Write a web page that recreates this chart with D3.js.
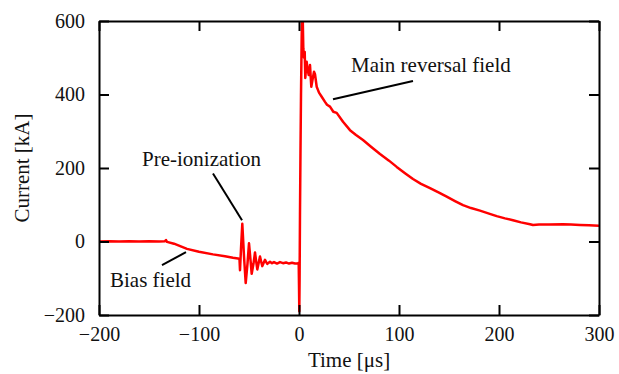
<!DOCTYPE html>
<html>
<head>
<meta charset="utf-8">
<script src="https://cdn.jsdelivr.net/npm/d3@7"></script>
<style>
  body { margin: 0; background: #fff; }
  svg { font-family: "Liberation Serif", "Times New Roman", serif; }
</style>
</head>
<body>
<svg id="chart" width="619" height="374"></svg>
<script>
// current trace (time in us, current in kA)
const time = [
  -200, -190, -180, -170, -160, -150, -140, -134, -133, -132, -125, -112, -100, -86, -74, -66, -61,
  -59.5, -59, -58, -56.7, -55, -53.3, -51.5, -50, -48.5, -47.3, -45.5, -44, -42.8, -41.7, -40.3, -39,
  -37.8, -36.7, -35.3, -34, -32.8, -31.7, -30, -29, -27, -25, -22, -19, -16, -13, -10, -7, -4, -1, -0.3,
  0, 0.3, 0.6, 1, 1.5, 2, 2.7, 3.3, 3.8, 4.3, 5, 5.7, 6.3, 7, 7.7, 8.5, 9.7, 11, 12.3, 13.5, 15, 16,
  17.7, 20, 22.7, 26, 28, 31, 34.3, 37.7, 44, 51, 57, 64, 72, 81, 90, 97.7, 106, 114, 122, 131, 140,
  147.7, 156, 164, 172, 181, 190, 197.7, 206, 214, 222, 231, 234, 240, 250, 264, 272, 281, 290, 300
];
const current = [
  0, 1, 0, 1, 0, 1, 0, 1, 4, -1, -6, -20, -28, -35, -40, -44, -46,
  -48, -78, -20, 48, -40, -113, -60, -5, -50, -88, -60, -30, -55, -76, -58, -41,
  -55, -67, -58, -50, -56, -61, -57, -55, -59, -56, -60, -56, -59, -57, -60, -58, -60, -59, -58,
  -120, -190, -100, 80, 250, 400, 560, 640, 600, 526, 500, 516, 445, 470, 489, 470, 453, 480, 421, 440, 462, 455,
  421, 405, 394, 380, 372, 367, 353, 350, 326, 303, 290, 276, 258, 238, 220, 203, 186, 170, 157, 145, 133,
  122, 110, 99, 91, 84, 76, 69, 63, 58, 52, 47, 45, 46, 46, 47, 46, 45, 44, 43
];

const xTicks = [-200, -100, 0, 100, 200, 300];
const yTicks = [-200, 0, 200, 400, 600];

// annotations: label, text anchor point, leader line (data coords)
const notes = [
  { text: "Pre-ionization", tx: -157, ty: 205, x1: -86, y1: 185, x2: -57, y2: 58 },
  { text: "Main reversal field", tx: 52, ty: 462, x1: 34, y1: 387, x2: 114, y2: 437 },
  { text: "Bias field", tx: -189, ty: -124, x1: -137, y1: -64, x2: -113, y2: -29 }
];

const svg = d3.select("#chart");
const margin = { left: 99, right: 20, top: 21, bottom: 59 };
const width = 619 - margin.left - margin.right;
const height = 374 - margin.top - margin.bottom;

const x = d3.scaleLinear().domain([-200, 300]).range([0, width]);
const y = d3.scaleLinear().domain([-200, 600]).range([height, 0]);

const g = svg.append("g").attr("transform", `translate(${margin.left},${margin.top})`);

g.append("clipPath").attr("id", "clip")
  .append("rect").attr("width", width).attr("height", height);

const line = d3.line().x((d, i) => x(time[i])).y(d => y(d));

g.append("path")
  .datum(current)
  .attr("clip-path", "url(#clip)")
  .attr("fill", "none")
  .attr("stroke", "#ff0000")
  .attr("stroke-width", 2.5)
  .attr("stroke-linejoin", "round")
  .attr("d", line);

// axes, ticks pointing inward on every side
const tick = 10;
const axBottom = g.append("g").attr("transform", `translate(0,${height})`)
  .call(d3.axisBottom(x).tickValues(xTicks).tickSizeInner(-tick).tickSizeOuter(0).tickPadding(12));
const axLeft = g.append("g")
  .call(d3.axisLeft(y).tickValues(yTicks).tickSizeInner(-tick).tickSizeOuter(0).tickPadding(14));
const axTop = g.append("g")
  .call(d3.axisTop(x).tickValues(xTicks).tickSizeInner(-tick).tickSizeOuter(0).tickFormat(""));
const axRight = g.append("g").attr("transform", `translate(${width},0)`)
  .call(d3.axisRight(y).tickValues(yTicks).tickSizeInner(-tick).tickSizeOuter(0).tickFormat(""));

[axBottom, axLeft, axTop, axRight].forEach(a => {
  a.selectAll("path.domain").attr("stroke", "#000").attr("stroke-width", 2);
  a.selectAll(".tick line").attr("stroke", "#000").attr("stroke-width", 2);
  a.selectAll(".tick text").attr("fill", "#111").style("font-size", "20px")
    .style("font-family", "'Liberation Serif', 'Times New Roman', serif");
});

svg.append("text")
  .attr("x", margin.left + width / 2)
  .attr("y", 367)
  .attr("text-anchor", "middle")
  .style("font-size", "21px")
  .attr("fill", "#111")
  .text("Time [μs]");

svg.append("text")
  .attr("transform", `translate(29,${margin.top + height / 2}) rotate(-90)`)
  .attr("text-anchor", "middle")
  .style("font-size", "21px")
  .attr("fill", "#111")
  .text("Current [kA]");

const ann = g.append("g");
ann.selectAll("line").data(notes).join("line")
  .attr("x1", d => x(d.x1)).attr("y1", d => y(d.y1))
  .attr("x2", d => x(d.x2)).attr("y2", d => y(d.y2))
  .attr("stroke", "#000").attr("stroke-width", 2);
ann.selectAll("text").data(notes).join("text")
  .attr("x", d => x(d.tx)).attr("y", d => y(d.ty))
  .style("font-size", "21px")
  .attr("fill", "#111")
  .text(d => d.text);
</script>
</body>
</html>
